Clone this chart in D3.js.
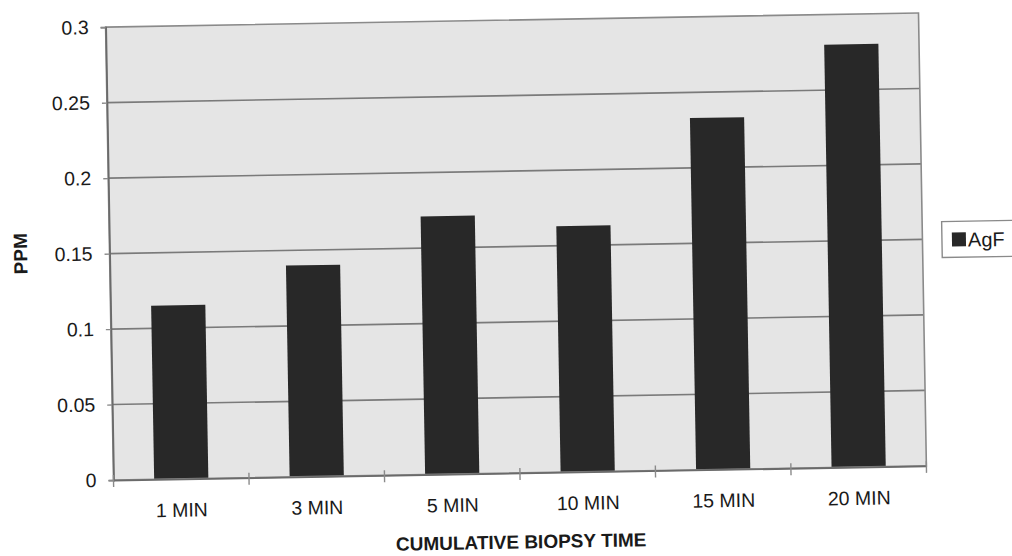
<!DOCTYPE html>
<html>
<head>
<meta charset="utf-8">
<script src="https://cdn.jsdelivr.net/npm/d3@7/dist/d3.min.js"></script>
<style>
  html, body { margin: 0; padding: 0; background: #fff; }
  svg { display: block; }
  text { font-family: "Liberation Sans", Arial, sans-serif; fill: #1a1a1a; }
</style>
</head>
<body>
<svg id="chart" width="1012" height="556"></svg>
<script>
const categories = ["1 MIN", "3 MIN", "5 MIN", "10 MIN", "15 MIN", "20 MIN"];
const seriesName = "AgF";
const values = [0.115, 0.14, 0.171, 0.163, 0.233, 0.28];
const yTicks = [0, 0.05, 0.1, 0.15, 0.2, 0.25, 0.3];
const yTickLabels = ["0", "0.05", "0.1", "0.15", "0.2", "0.25", "0.3"];
const xTitle = "CUMULATIVE BIOPSY TIME";
const yTitle = "PPM";

const W = 1012, H = 556;
const plot = { left: 109.5, right: 922.5, top: 20, bottom: 473 };

const svg = d3.select("#chart");
svg.append("rect").attr("width", W).attr("height", H).attr("fill", "#fff");

// the scanned chart is tilted by about one degree
const g = svg.append("g").attr("transform", "rotate(-1, 516, 246.5)");

const x = d3.scaleBand().domain(categories)
  .range([plot.left, plot.right]).paddingInner(0.6).paddingOuter(0.3);
const y = d3.scaleLinear().domain([0, 0.3]).range([plot.bottom, plot.top]);

// plot background
g.append("rect")
  .attr("x", plot.left).attr("y", plot.top)
  .attr("width", plot.right - plot.left).attr("height", plot.bottom - plot.top)
  .attr("fill", "#e5e5e5");

// gridlines
g.append("g").selectAll("line").data(yTicks.filter(d => d > 0 && d < 0.3)).join("line")
  .attr("x1", plot.left).attr("x2", plot.right)
  .attr("y1", d => y(d)).attr("y2", d => y(d))
  .attr("stroke", "#7a7a7a").attr("stroke-width", 1.6);

// bars
g.append("g").selectAll("rect").data(values).join("rect")
  .attr("x", (d, i) => x(categories[i]))
  .attr("y", d => y(d))
  .attr("width", x.bandwidth())
  .attr("height", d => y(0) - y(d))
  .attr("fill", "#282828");

// plot border (top/right)
g.append("rect")
  .attr("x", plot.left).attr("y", plot.top)
  .attr("width", plot.right - plot.left).attr("height", plot.bottom - plot.top)
  .attr("fill", "none").attr("stroke", "#8a8a8a").attr("stroke-width", 1.6);

// y axis
const yAxis = d3.axisLeft(y).tickValues(yTicks)
  .tickFormat((d, i) => yTickLabels[i]).tickSize(5).tickPadding(12);
const yg = g.append("g").attr("transform", `translate(${plot.left},0)`).call(yAxis);
yg.select(".domain").attr("stroke", "#6a6a6a").attr("stroke-width", 1.8);
yg.selectAll(".tick line").attr("stroke", "#8a8a8a").attr("stroke-width", 1.4);
yg.selectAll(".tick text").attr("font-size", 19.5).attr("fill", "#1a1a1a")
  .attr("font-family", "Liberation Sans, Arial, sans-serif");

// x axis
const xAxis = d3.axisBottom(x).tickSize(0).tickPadding(24);
const xg = g.append("g").attr("transform", `translate(0,${plot.bottom})`).call(xAxis);
xg.select(".domain").attr("stroke", "#6a6a6a").attr("stroke-width", 1.8);
xg.selectAll(".tick text").attr("font-size", 19.5).attr("fill", "#1a1a1a")
  .attr("font-family", "Liberation Sans, Arial, sans-serif");

// category boundary ticks
const step = x.step();
const bounds = d3.range(categories.length + 1).map(k => plot.left + k * step);
g.append("g").selectAll("line").data(bounds).join("line")
  .attr("x1", d => d).attr("x2", d => d)
  .attr("y1", plot.bottom - 5).attr("y2", plot.bottom + 7)
  .attr("stroke", "#8a8a8a").attr("stroke-width", 1.4);

// axis titles
g.append("text")
  .attr("x", (plot.left + plot.right) / 2).attr("y", 548.5)
  .attr("text-anchor", "middle").attr("font-size", 19).attr("font-weight", "bold")
  .text(xTitle);
g.append("text")
  .attr("transform", `translate(27, 245) rotate(-90)`)
  .attr("text-anchor", "middle").attr("font-size", 19).attr("font-weight", "bold")
  .text(yTitle);

// legend
const lg = g.append("g");
lg.append("rect").attr("x", 942).attr("y", 229).attr("width", 90).attr("height", 36)
  .attr("fill", "#fff").attr("stroke", "#8a8a8a").attr("stroke-width", 1.4);
lg.append("rect").attr("x", 952).attr("y", 240).attr("width", 14).attr("height", 14)
  .attr("fill", "#282828");
lg.append("text").attr("x", 968).attr("y", 254.5).attr("font-size", 20).text(seriesName);
</script>
</body>
</html>
